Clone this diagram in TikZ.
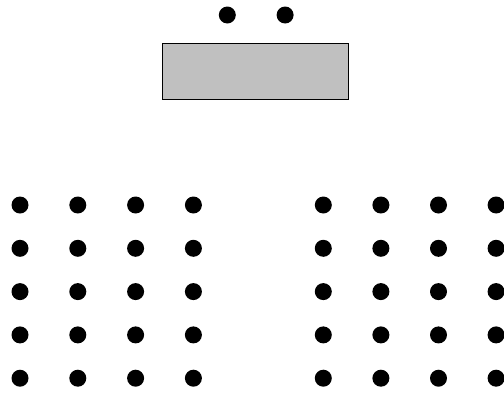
\documentclass[tikz,border=0pt]{standalone}
\usepackage{tikz}
\usetikzlibrary{positioning}
\definecolor{deskgray}{RGB}{192,192,192}
\tikzset{
  seat/.style={circle, fill=black, inner sep=0pt, minimum size=17pt},
  desk/.style={draw=black, fill=deskgray, line width=1.5pt,
               minimum width=186pt, minimum height=56pt, inner sep=0pt},
}

\begin{document}
\begin{tikzpicture}[x=1pt, y=-1pt]
    \useasboundingbox (0,0) rectangle (504,392);
    % front
    \node[desk] (desk) at (255.7,71.3) {};
    \node[seat] (t1) at (227.3,15) {};
    \node[seat, right=40.4pt of t1] (t2) {};
    % left block
    \begin{scope}
      \foreach \i in {0,...,3}
        \foreach \j in {0,...,4}
          \node[seat] (l-\i-\j) at (20+57.8*\i, 205+43.3*\j) {};
    \end{scope}
    % right block
    \begin{scope}[xshift=303.3pt]
      \foreach \i in {0,...,3}
        \foreach \j in {0,...,4}
          \node[seat] (r-\i-\j) at (20+57.6*\i, 205+43.3*\j) {};
    \end{scope}
  \end{tikzpicture}
\end{document}
